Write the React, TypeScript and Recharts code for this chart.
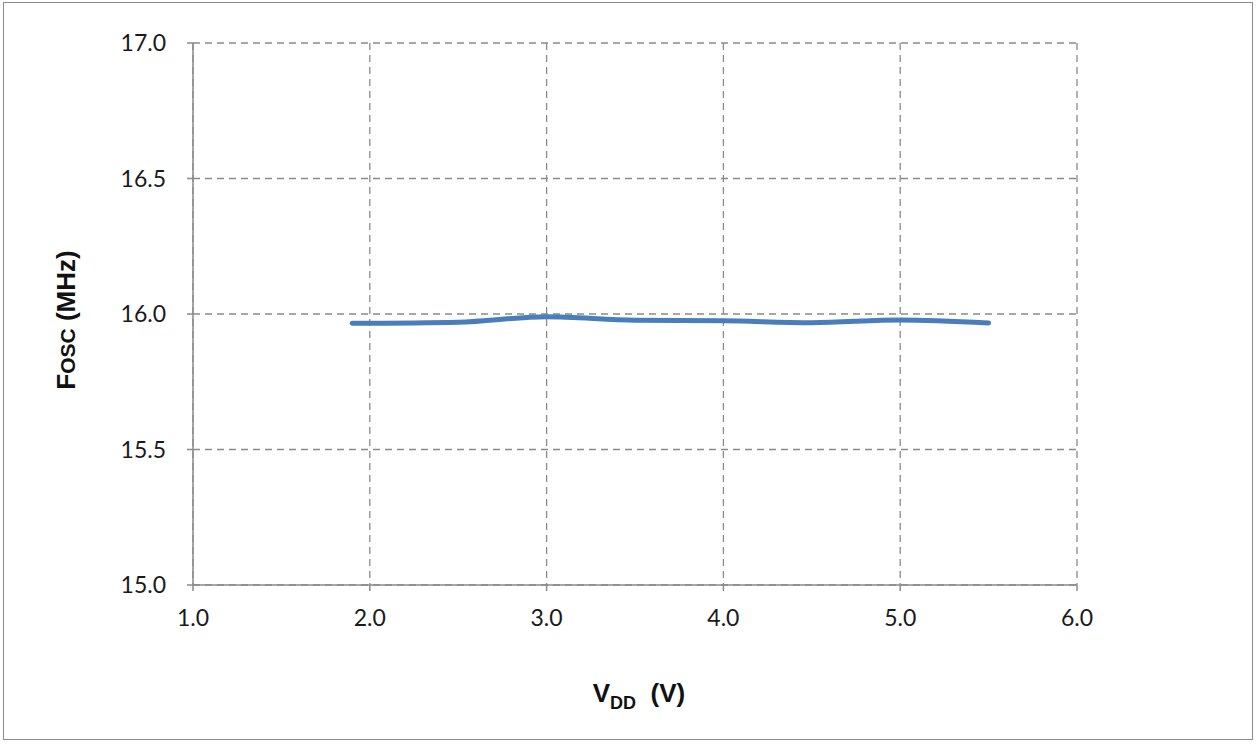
import { LineChart, Line, XAxis, YAxis, CartesianGrid, Label } from "recharts";

const vdd = [1.9, 2.5, 3.0, 3.5, 4.0, 4.5, 5.0, 5.5];
const fosc = [15.966, 15.970, 15.990, 15.977, 15.975, 15.968, 15.978, 15.967];
const xTicks = [1, 2, 3, 4, 5, 6];
const yTicks = [15, 15.5, 16, 16.5, 17];

const data = vdd.map((v, i) => ({ vdd: v, fosc: fosc[i] }));

const tickFont = { fontFamily: "Lato, 'Open Sans', sans-serif", fontSize: 23, fill: "#1a1a1a" };

export default function App() {
  return (
    <div style={{ position: "relative", width: 1258, height: 745, background: "#fff" }}>
      <style>{`body{margin:0}`}</style>
      <div
        style={{
          position: "absolute",
          left: 3,
          top: 2,
          width: 1250,
          height: 738,
          border: "1.5px solid #8c8c8c",
          boxSizing: "border-box",
        }}
      />
      <LineChart
        width={1258}
        height={745}
        data={data}
        margin={{ top: 43, right: 181, bottom: 0, left: 0 }}
        style={{ position: "absolute", left: 0, top: 0 }}
      >
        <CartesianGrid stroke="#8a8a8a" strokeDasharray="7 5" strokeWidth={1.3} />
        <XAxis
          dataKey="vdd"
          type="number"
          domain={[1, 6]}
          ticks={xTicks}
          tickFormatter={(v: number) => v.toFixed(1)}
          height={160}
          stroke="#8a8a8a"
          strokeWidth={1.5}
          tickSize={6}
          tickMargin={19}
          tick={tickFont}
        >
          <Label
            position="insideBottom"
            content={({ viewBox }: any) => (
              <text
                x={viewBox.x + viewBox.width / 2 + 4}
                y={702}
                textAnchor="middle"
                fontFamily="Arial, 'Liberation Sans', sans-serif"
                fontWeight="bold"
                fontSize={26}
                fill="#111"
              >
                V<tspan fontSize={18} dy={7}>DD</tspan>
                <tspan dy={-7}>{"\u00a0\u00a0(V)"}</tspan>
              </text>
            )}
          />
        </XAxis>
        <YAxis
          type="number"
          domain={[15, 17]}
          ticks={yTicks}
          tickFormatter={(v: number) => v.toFixed(1)}
          width={193}
          stroke="#8a8a8a"
          strokeWidth={1.5}
          tickSize={6}
          tickMargin={21}
          tick={tickFont}
          allowDataOverflow
        >
          <Label
            position="insideLeft"
            content={() => (
              <text
                x={75}
                y={320}
                transform="rotate(-90 75 320)"
                textAnchor="middle"
                fontFamily="Arial, 'Liberation Sans', sans-serif"
                fontWeight="bold"
                fontSize={26}
                fill="#111"
              >
                F<tspan fontSize={21}>OSC</tspan> (MHz)
              </text>
            )}
          />
        </YAxis>
        <Line
          type="monotone"
          dataKey="fosc"
          stroke="#4a7ebb"
          strokeWidth={5}
          strokeLinecap="round"
          dot={false}
          isAnimationActive={false}
        />
      </LineChart>
    </div>
  );
}
